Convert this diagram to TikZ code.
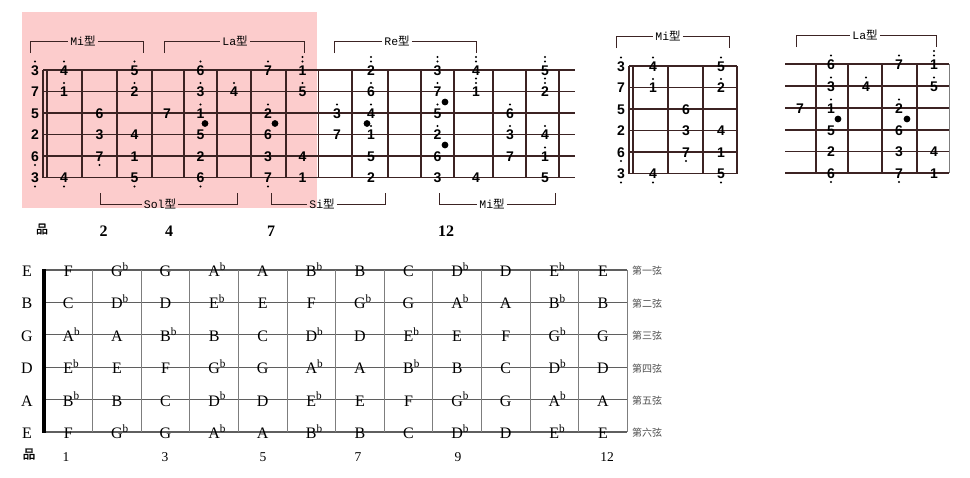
\documentclass[tikz,border=0pt]{standalone}
\usepackage{fontspec}
\setmainfont{Liberation Serif}
\newfontfamily\cjk{Noto Sans CJK SC}
\newfontfamily\cjkb[FakeBold=2]{Noto Sans CJK SC}
\newfontfamily\jpfont{Liberation Sans}
\newfontfamily\monof{Liberation Mono}
\definecolor{pinkbg}{RGB}{252,204,204}
\definecolor{brd}{RGB}{60,35,35}
\definecolor{gstr}{RGB}{95,95,95}
\definecolor{gfret}{RGB}{125,125,125}
\definecolor{glab}{RGB}{80,80,80}
\newcounter{jc}
\newcommand\jn[5]{%
  \stepcounter{jc}%
  \node[jp] (jn\arabic{jc}) at (#1,#2+0.5) {#3};%
  \ifnum#4>0 \fill[black] (#1,#2-8.5) circle[radius=1.2pt];\fi
  \ifnum#4>1 \fill[black] (#1,#2-13) circle[radius=1.2pt];\fi
  \ifnum#5>0 \fill[black] (#1,#2+9) circle[radius=1.2pt];\fi
}
\newcommand\fl{\rlap{\textsuperscript{b}}}
\newcommand\xing[1]{{\monof #1}{\cjk 型}}
\begin{document}
\begin{tikzpicture}[x=1pt,y=-1pt,
  jp/.style={font=\jpfont\bfseries\fontsize{14}{14}\selectfont,inner sep=0pt,text=black},
  bline/.style={brd,line width=1.3pt},
  brk/.style={brd,line width=0.9pt},
  brktext/.style={font=\fontsize{11.5}{11.5}\selectfont,inner sep=2pt,text=black},
  inlay/.style={fill=black},
  nl/.style={font=\fontsize{16}{16}\selectfont,inner sep=0pt,anchor=base},
  rlab/.style={font=\cjk\fontsize{10}{10}\selectfont,text=glab,inner sep=0pt},
  bnum/.style={font=\fontsize{13.5}{13.5}\selectfont,inner sep=0pt,anchor=base},
  tnum/.style={font=\bfseries\fontsize{16}{16}\selectfont,inner sep=0pt,anchor=base}]
\useasboundingbox (0,0) rectangle (970,477);
\fill[white] (0,0) rectangle (970,477);
\fill[pinkbg] (22,12) rectangle (317,208);

% ---------- top-left board ----------
\draw[bline] (43,70) -- (43,177.5);
\draw[bline] (47,70) -- (47,177.5);
\foreach \y in {70,91.5,113,134.5,156,177.5} \draw[bline] (43,\y) -- (575,\y);
\foreach \x in {82,117,152,184,217,251,286,318.5,352,388,421,454,493,526,559} \draw[bline] (\x,70) -- (\x,177.5);
\foreach \x/\s/\d/\a/\b in {
  35/70/3/1/0, 35/91.5/7/0/0, 35/113/5/0/0, 35/134.5/2/0/0, 35/156/6/0/1, 35/177.5/3/0/1,
  64/70/4/1/0, 134.5/70/5/1/0, 200.5/70/6/1/0, 268/70/7/1/0, 302.5/70/1/2/0, 371/70/2/2/0, 437.5/70/3/2/0, 476/70/4/2/0, 545/70/5/2/0,
  64/91.5/1/1/0, 134.5/91.5/2/1/0, 200.5/91.5/3/1/0, 234/91.5/4/1/0, 302.5/91.5/5/1/0, 371/91.5/6/1/0, 437.5/91.5/7/1/0, 476/91.5/1/2/0, 545/91.5/2/2/0,
  99.5/113/6/0/0, 167/113/7/0/0, 200.5/113/1/1/0, 268/113/2/1/0, 337/113/3/1/0, 371/113/4/1/0, 437.5/113/5/1/0, 510/113/6/1/0,
  99.5/134.5/3/0/0, 134.5/134.5/4/0/0, 200.5/134.5/5/0/0, 268/134.5/6/0/0, 337/134.5/7/0/0, 371/134.5/1/1/0, 437.5/134.5/2/1/0, 510/134.5/3/1/0, 545/134.5/4/1/0,
  99.5/156/7/0/1, 134.5/156/1/0/0, 200.5/156/2/0/0, 268/156/3/0/0, 302.5/156/4/0/0, 371/156/5/0/0, 437.5/156/6/0/0, 510/156/7/0/0, 545/156/1/1/0,
  64/177.5/4/0/1, 134.5/177.5/5/0/1, 200.5/177.5/6/0/1, 268/177.5/7/0/1, 302.5/177.5/1/0/0, 371/177.5/2/0/0, 437.5/177.5/3/0/0, 476/177.5/4/0/0, 545/177.5/5/0/0}
  {\jn{\x}{\s}{\d}{\a}{\b}}
\foreach \x/\y in {205/123.5, 275/123.5, 367/123.5, 445/102, 445/145}
  \fill[inlay] (\x,\y) circle[radius=3.4pt];

% brackets of the big board
\node[brktext] (bMi) at (83,41) {\xing{Mi}};
\draw[brk] (30,53) -- (30,41) -- (bMi.west);
\draw[brk] (bMi.east) -- (143,41) -- (143,53);
\node[brktext] (bLa) at (235,41) {\xing{La}};
\draw[brk] (164,53) -- (164,41) -- (bLa.west);
\draw[brk] (bLa.east) -- (304,41) -- (304,53);
\node[brktext] (bRe) at (397,41) {\xing{Re}};
\draw[brk] (334,53) -- (334,41) -- (bRe.west);
\draw[brk] (bRe.east) -- (476,41) -- (476,53);
\node[brktext] (bSol) at (160,204) {\xing{Sol}};
\draw[brk] (100,193) -- (100,204) -- (bSol.west);
\draw[brk] (bSol.east) -- (237,204) -- (237,193);
\node[brktext] (bSi) at (322,204) {\xing{Si}};
\draw[brk] (271,193) -- (271,204) -- (bSi.west);
\draw[brk] (bSi.east) -- (385,204) -- (385,193);
\node[brktext] (bMi2) at (492,204) {\xing{Mi}};
\draw[brk] (439,193) -- (439,204) -- (bMi2.west);
\draw[brk] (bMi2.east) -- (555,204) -- (555,193);

% fret numbers under big board
\node[font=\cjkb\fontsize{12}{12}\selectfont,inner sep=0pt] (pin1) at (42,229) {品};
\node[tnum] (tn2) at (103.5,236) {2};
\node[tnum] (tn4) at (169,236) {4};
\node[tnum] (tn7) at (271,236) {7};
\node[tnum] (tn12) at (446,236) {12};

% ---------- small Mi board ----------
\draw[bline] (629,66) -- (629,173.5);
\draw[bline] (633,66) -- (633,173.5);
\foreach \y in {66,87.5,109,130.5,152,173.5} \draw[bline] (629,\y) -- (737,\y);
\foreach \x in {668,703,737} \draw[bline] (\x,66) -- (\x,173.5);
\foreach \x/\s/\d/\a/\b in {
  621/66/3/1/0, 621/87.5/7/0/0, 621/109/5/0/0, 621/130.5/2/0/0, 621/152/6/0/1, 621/173.5/3/0/1,
  653/66/4/1/0, 721/66/5/1/0, 653/87.5/1/1/0, 721/87.5/2/1/0, 686/109/6/0/0,
  686/130.5/3/0/0, 721/130.5/4/0/0, 686/152/7/0/1, 721/152/1/0/0,
  653/173.5/4/0/1, 721/173.5/5/0/1}
  {\jn{\x}{\s}{\d}{\a}{\b}}
\node[brktext] (sMi) at (668,36) {\xing{Mi}};
\draw[brk] (616,48) -- (616,36) -- (sMi.west);
\draw[brk] (sMi.east) -- (729,36) -- (729,48);

% ---------- small La board ----------
\foreach \y in {64,86,108,130,151.5,173} \draw[bline] (785,\y) -- (949,\y);
\foreach \x in {816,848,882,917} \draw[bline] (\x,64) -- (\x,173);
\draw[gfret,line width=0.8pt] (949,64) -- (949,173);
\foreach \x/\s/\d/\a/\b in {
  831/64/6/1/0, 899/64/7/1/0, 934/64/1/2/0,
  831/86/3/1/0, 866/86/4/1/0, 934/86/5/1/0,
  800/108/7/0/0, 831/108/1/1/0, 899/108/2/1/0,
  831/130/5/0/0, 899/130/6/0/0,
  831/151.5/2/0/0, 899/151.5/3/0/0, 934/151.5/4/0/0,
  831/173/6/0/1, 899/173/7/0/1, 934/173/1/0/0}
  {\jn{\x}{\s}{\d}{\a}{\b}}
\foreach \x in {838,907} \fill[inlay] (\x,119) circle[radius=3.4pt];
\node[brktext] (sLa) at (865,35) {\xing{La}};
\draw[brk] (796,47) -- (796,35) -- (sLa.west);
\draw[brk] (sLa.east) -- (936,35) -- (936,47);

% ---------- bottom note board ----------
\foreach \r in {0,...,5} \draw[gstr,line width=1.1pt] (44,270+32.4*\r) -- (627.2,270+32.4*\r);
\foreach \k in {1,...,12} \draw[gfret,line width=0.9pt] (44+48.6*\k,270) -- (44+48.6*\k,432);
\draw[black,line width=3.4pt] (44,269) -- (44,433);
\foreach \row [count=\r from 0] in {
  {F,G\fl,G,A\fl,A,B\fl,B,C,D\fl,D,E\fl,E},
  {C,D\fl,D,E\fl,E,F,G\fl,G,A\fl,A,B\fl,B},
  {A\fl,A,B\fl,B,C,D\fl,D,E\fl,E,F,G\fl,G},
  {E\fl,E,F,G\fl,G,A\fl,A,B\fl,B,C,D\fl,D},
  {B\fl,B,C,D\fl,D,E\fl,E,F,G\fl,G,A\fl,A},
  {F,G\fl,G,A\fl,A,B\fl,B,C,D\fl,D,E\fl,E}}
  {\foreach \n [count=\c] in \row
     \node[nl] (nt-\r-\c) at (19.7+48.6*\c,276.5+32.4*\r) {\n};}
\foreach \s [count=\r from 0] in {E,B,G,D,A,E}
  \node[nl] (sl-\r) at (27,276.5+32.4*\r) {\s};
\foreach \s [count=\r from 0] in {第一弦,第二弦,第三弦,第四弦,第五弦,第六弦}
  \node[rlab] (rl-\r) at (647,271+32.4*\r) {\s};
\node[font=\cjkb\fontsize{12.5}{12.5}\selectfont,inner sep=0pt] (pin2) at (29,454) {品};
\foreach \x/\t in {66/1,165/3,263/5,358/7,458/9,607/12}
  \node[bnum] (bn-\t) at (\x,461) {\t};
\end{tikzpicture}
\end{document}
